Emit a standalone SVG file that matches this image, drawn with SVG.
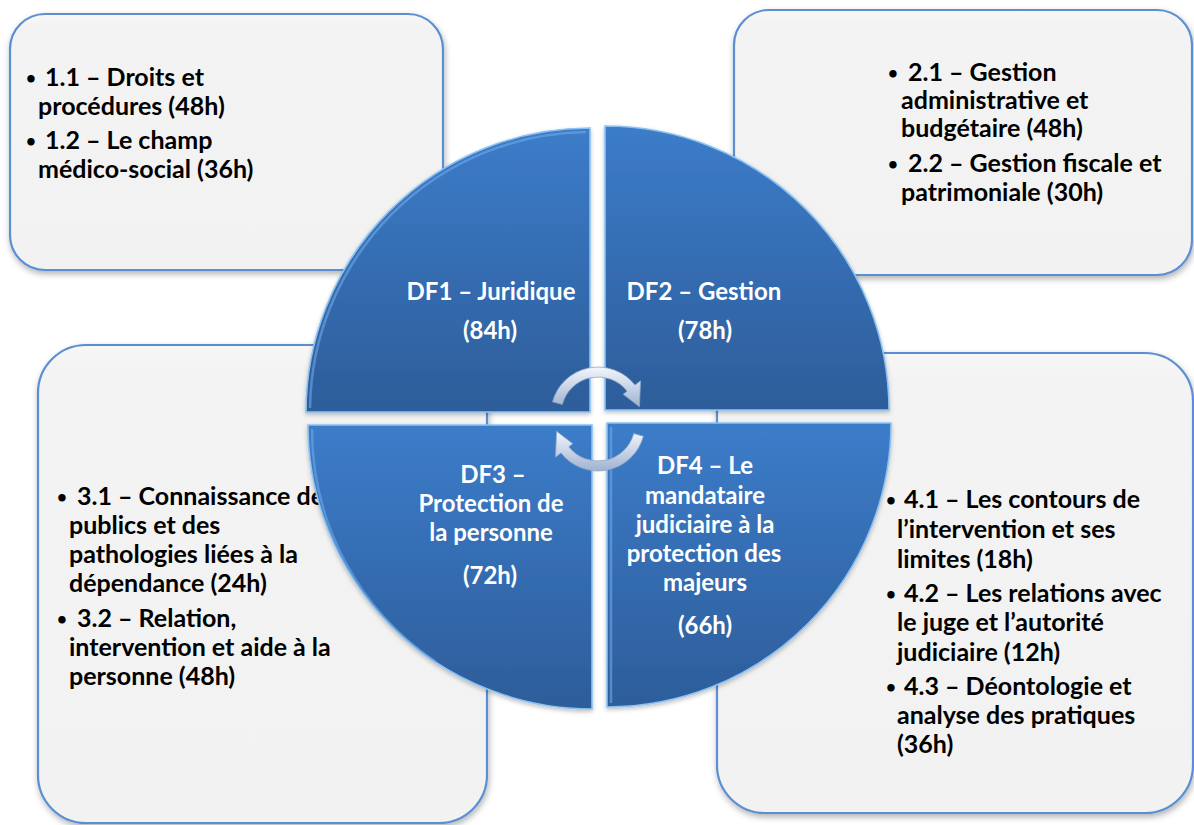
<svg xmlns="http://www.w3.org/2000/svg" width="1194" height="825" viewBox="0 0 1194 825">
<defs>
<style>
.box{fill:url(#boxg);stroke:#5b8fd2;stroke-width:2.2;filter:url(#sh)}
.t{font-family:Lato,"Liberation Sans",sans-serif;font-weight:bold;font-size:25px;fill:#000}
.b{font-size:17px}
.c{font-family:Lato,"Liberation Sans",sans-serif;font-weight:bold;font-size:24px;fill:#fff;text-anchor:middle}
.q{fill:url(#qg);stroke:#8cc2f2;stroke-width:1.6;filter:url(#qsh)}
.qin{fill:none;stroke:#6fa9e6;stroke-width:2.5;opacity:0.6}
.arr{fill:url(#ag);stroke:#8ea5c6;stroke-width:0.8}
</style>
<linearGradient id="boxg" x1="0" y1="0" x2="0" y2="1">
<stop offset="0" stop-color="#f7f7f7"/><stop offset="0.05" stop-color="#f3f3f3"/><stop offset="1" stop-color="#f2f2f2"/>
</linearGradient>
<linearGradient id="qg" x1="0" y1="0" x2="0" y2="1">
<stop offset="0" stop-color="#3c7cc9"/><stop offset="1" stop-color="#2d5d9a"/>
</linearGradient>
<linearGradient id="ag" x1="0" y1="0" x2="0" y2="1">
<stop offset="0" stop-color="#f3f6fb"/><stop offset="0.5" stop-color="#c9d5e8"/><stop offset="1" stop-color="#9fb2cf"/>
</linearGradient>
<filter id="sh" x="-5%" y="-5%" width="115%" height="115%">
<feDropShadow dx="1" dy="3" stdDeviation="3" flood-color="#000" flood-opacity="0.3"/>
</filter>
<filter id="qsh" x="-5%" y="-5%" width="115%" height="115%">
<feDropShadow dx="0" dy="2" stdDeviation="2" flood-color="#000" flood-opacity="0.25"/>
</filter>
</defs>
<rect width="1194" height="825" fill="#ffffff"/>

<g id="box1">
<rect class="box" x="10" y="14" width="433" height="256" rx="35"/>
<text class="t"><tspan class="b" x="26" y="84">•</tspan><tspan x="45" y="86">1.1 – Droits et</tspan><tspan x="38" y="115">procédures (48h)</tspan><tspan class="b" x="26" y="147">•</tspan><tspan x="45" y="149">1.2 – Le champ</tspan><tspan x="38" y="178">médico-social (36h)</tspan></text>
</g>

<g id="box2">
<rect class="box" x="734" y="10" width="458" height="265" rx="35"/>
<text class="t"><tspan class="b" x="888" y="79">•</tspan><tspan x="908" y="81">2.1 – Gestion</tspan><tspan x="901" y="109">administrative et</tspan><tspan x="901" y="137">budgétaire (48h)</tspan><tspan class="b" x="888" y="170">•</tspan><tspan x="908" y="172">2.2 – Gestion fiscale et</tspan><tspan x="901" y="201">patrimoniale (30h)</tspan></text>
</g>

<g id="box3">
<rect class="box" x="38" y="345" width="449" height="478" rx="48"/>
<text class="t"><tspan class="b" x="57" y="503">•</tspan><tspan x="77" y="505">3.1 – Connaissance de</tspan><tspan x="69" y="534">publics et des</tspan><tspan x="69" y="563">pathologies liées à la</tspan><tspan x="69" y="592">dépendance (24h)</tspan><tspan class="b" x="57" y="625">•</tspan><tspan x="77" y="627">3.2 – Relation,</tspan><tspan x="69" y="656">intervention et aide à la</tspan><tspan x="69" y="685">personne (48h)</tspan></text>
</g>

<g id="box4">
<rect class="box" x="717" y="353" width="476" height="460" rx="48"/>
<text class="t"><tspan class="b" x="886" y="506">•</tspan><tspan x="904" y="508">4.1 – Les contours de</tspan><tspan x="897" y="538">l’intervention et ses</tspan><tspan x="897" y="568">limites (18h)</tspan><tspan class="b" x="886" y="600">•</tspan><tspan x="904" y="602">4.2 – Les relations avec</tspan><tspan x="897" y="631">le juge et l’autorité</tspan><tspan x="897" y="661">judiciaire (12h)</tspan><tspan class="b" x="886" y="693">•</tspan><tspan x="904" y="695">4.3 – Déontologie et</tspan><tspan x="897" y="724">analyse des pratiques</tspan><tspan x="897" y="753">(36h)</tspan></text>
</g>

<g id="df1">
<path class="q" d="M590,412 L306,412 A284,284 0 0 1 590,128 Z"/>
<path class="qin" d="M310,408 A280,280 0 0 1 586,132"/>
<text class="c"><tspan x="491" y="300">DF1 – Juridique</tspan><tspan x="490" y="339">(84h)</tspan></text>
</g>

<g id="df2">
<path class="q" d="M605,410 L605,126 A284,284 0 0 1 889,410 Z"/>
<text class="c"><tspan x="704" y="300">DF2 – Gestion</tspan><tspan x="705" y="339">(78h)</tspan></text>
</g>

<g id="df3">
<path class="q" d="M592,425 L592,709 A284,284 0 0 1 308,425 Z"/>
<path class="qin" d="M312,429 A280,280 0 0 0 436,662"/>
<text class="c"><tspan x="493" y="483">DF3 –</tspan><tspan x="491" y="512">Protection de</tspan><tspan x="491" y="541">la personne</tspan><tspan x="490" y="584">(72h)</tspan></text>
</g>

<g id="df4">
<path class="q" d="M607,423 L891,423 A284,284 0 0 1 607,707 Z"/>
<path class="qin" d="M611,427 L611,703"/>
<text class="c"><tspan x="705" y="474">DF4 – Le</tspan><tspan x="705" y="504">mandataire</tspan><tspan x="705" y="533">judiciaire à la</tspan><tspan x="704" y="562">protection des</tspan><tspan x="705" y="591">majeurs</tspan><tspan x="705" y="634">(66h)</tspan></text>
</g>

<g id="connectors">
<path class="arr" d="M552.6,401.8 A47,47 0 0 1 635.0,385.1 L640.6,380.8 L639.4,406.7 L623.2,394.3 L627.2,391.2 A37,37 0 0 0 562.3,404.4 Z"/>
<path class="arr" d="M643.4,436.2 A47,47 0 0 1 561.0,452.9 L555.5,457.3 L556.6,431.3 L572.8,443.7 L568.8,446.8 A37,37 0 0 0 633.7,433.6 Z"/>
</g>
</svg>
